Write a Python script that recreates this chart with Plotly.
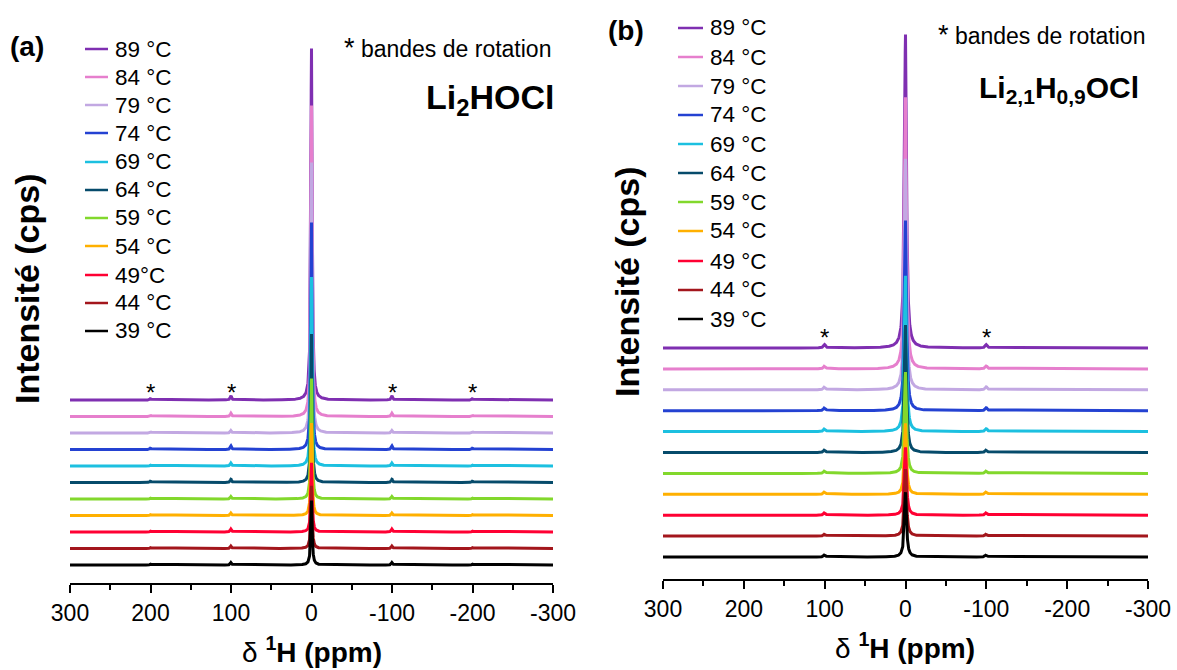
import numpy as np
import plotly.graph_objects as go

W, H = 1177, 670

# ---------------- data ----------------
labels_a = ["39 °C", "44 °C", "49°C", "54 °C", "59 °C", "64 °C", "69 °C", "74 °C", "79 °C", "84 °C", "89 °C"]
labels_b = ["39 °C", "44 °C", "49 °C", "54 °C", "59 °C", "64 °C", "69 °C", "74 °C", "79 °C", "84 °C", "89 °C"]
colors = ["#000000", "#A3161C", "#FF0033", "#FFB000", "#82D82C", "#064B6B",
          "#1CC0E0", "#2442D2", "#C2A8E2", "#E67FCD", "#7F2FB1"]

# central peak heights (units of the vertical offset step)
peak_a = [3.9, 3.8, 4.2, 5.6, 7.3, 9.0, 11.45, 13.75, 16.4, 18.85, 21.3]
peak_b = [3.1, 3.2, 3.25, 3.4, 4.85, 6.1, 7.45, 9.1, 11.05, 13.0, 15.0]
# spinning side-band heights
sb100_a = [0.15, 0.15, 0.18, 0.15, 0.15, 0.2, 0.18, 0.22, 0.15, 0.2, 0.25]
sb200_a = [0.05, 0.05, 0.05, 0.05, 0.05, 0.08, 0.05, 0.08, 0.06, 0.06, 0.08]
sb100_b = [0.1, 0.1, 0.12, 0.12, 0.12, 0.12, 0.14, 0.14, 0.14, 0.14, 0.16]
width_a = 1.0
width_b = 1.5

tick_vals = [300, 200, 100, 0, -100, -200, -300]
tick_text = ["300", "200", "100", "0", "-100", "-200", "-300"]
minor_vals = [250, 150, 50, -50, -150, -250]

ppm = np.linspace(-300, 300, 4801)


def lor(x0, g):
    return g * g / ((ppm - x0) ** 2 + g * g)


fig = go.Figure()

FONT = "Arial, Liberation Sans, sans-serif"

for i in reversed(range(11)):
    ya = i + peak_a[i] * lor(0, width_a) + sb100_a[i] * (lor(100, width_a) + lor(-100, width_a)) \
        + sb200_a[i] * (lor(200, width_a) + lor(-200, width_a))
    fig.add_trace(go.Scatter(x=ppm, y=ya, mode="lines", line=dict(color=colors[i], width=3),
                             xaxis="x", yaxis="y", showlegend=False, hoverinfo="skip"))
for i in reversed(range(11)):
    yb = i + peak_b[i] * lor(0, width_b) + sb100_b[i] * (lor(100, width_b) + lor(-100, width_b))
    fig.add_trace(go.Scatter(x=ppm, y=yb, mode="lines", line=dict(color=colors[i], width=3),
                             xaxis="x2", yaxis="y2", showlegend=False, hoverinfo="skip"))


def px(x):
    return x / W


def py(y):
    return 1 - y / H


xcommon = dict(range=[300, -300], tickmode="array", tickvals=tick_vals, ticktext=tick_text,
               ticks="outside", ticklen=8, tickwidth=2, tickcolor="black", automargin=False,
               showline=True, linewidth=2, linecolor="black", showgrid=False, zeroline=False,
               tickfont=dict(family=FONT, size=23, color="black"),
               minor=dict(ticks="outside", ticklen=5, tickwidth=2, tickcolor="black",
                          tickvals=minor_vals, showgrid=False))

# spacing: a 16.5 px/unit, b 20.9 px/unit
ya_min = -(583 - 565) / 16.5
ya_max = ya_min + (583 - 40) / 16.5
yb_min = -(579 - 557) / 20.9
yb_max = yb_min + (579 - 25) / 20.9

fig.update_layout(
    template="none",
    width=W, height=H, margin=dict(l=0, r=0, t=0, b=0, autoexpand=False),
    paper_bgcolor="white", plot_bgcolor="white",
    font=dict(family=FONT, color="black"),
    xaxis=dict(domain=[px(70), px(553)], anchor="y", **xcommon),
    yaxis=dict(domain=[py(583), py(40)], range=[ya_min, ya_max], visible=False, anchor="x",
               automargin=False),
    xaxis2=dict(domain=[px(663), px(1148)], anchor="y2", **xcommon),
    yaxis2=dict(domain=[py(579), py(25)], range=[yb_min, yb_max], visible=False, anchor="x2",
                automargin=False),
)

ann = []
shapes = []


def note(text, x, y, size, xanchor="center", yanchor="middle", **kw):
    ann.append(dict(text=text, xref="paper", yref="paper", x=px(x), y=py(y), xanchor=xanchor,
                    yanchor=yanchor, showarrow=False, font=dict(size=size, family=FONT), **kw))


# manual legends
rows_a = [331, 303, 275, 246, 218, 190, 162, 133, 105, 77, 49]
rows_b = [319, 290, 261, 231, 202, 173, 144, 115, 86, 57, 28]
for i in range(11):
    shapes.append(dict(type="line", xref="paper", yref="paper", x0=px(85), x1=px(108),
                       y0=py(rows_a[i]), y1=py(rows_a[i]), line=dict(color=colors[i], width=2.5)))
    note(labels_a[i], 113, rows_a[i], 22.5, xanchor="left")
    shapes.append(dict(type="line", xref="paper", yref="paper", x0=px(678), x1=px(703),
                       y0=py(rows_b[i]), y1=py(rows_b[i]), line=dict(color=colors[i], width=2.5)))
    note(labels_b[i], 708, rows_b[i], 22.5, xanchor="left")

# asterisks over spinning side bands
for xv in [200, 100, -100, -200]:
    ann.append(dict(text="*", xref="x", yref="y", x=xv, y=10, yshift=7, showarrow=False,
                    xanchor="center", yanchor="middle", font=dict(size=24, family=FONT)))
for xv in [100, -100]:
    ann.append(dict(text="*", xref="x2", yref="y2", x=xv, y=10, yshift=11, showarrow=False,
                    xanchor="center", yanchor="middle", font=dict(size=24, family=FONT)))

# panel letters
note("<b>(a)</b>", 27, 46, 28)
note("<b>(b)</b>", 626, 30, 28)

# notes
note("<span style='font-size:27px'>*</span> bandes de rotation", 342, 48, 23, xanchor="left")
note("<span style='font-size:27px'>*</span> bandes de rotation", 936, 35, 23, xanchor="left")
note("<b>Li<sub>2</sub>HOCl</b>", 556, 100, 34, xanchor="right")
note("<b>Li<sub>2,1</sub>H<sub>0,9</sub>OCl</b>", 1141, 90, 30, xanchor="right")

# axis titles
note("δ <b><sup>1</sup>H (ppm)</b>", 312, 650, 28)
note("δ <b><sup>1</sup>H (ppm)</b>", 905, 646, 28)
note("<b>Intensité (cps)</b>", 27, 289, 34, textangle=-90)
note("<b>Intensité (cps)</b>", 627, 282, 34, textangle=-90)

fig.update_layout(annotations=ann, shapes=shapes)
fig.write_html("out.html", config={"displayModeBar": False},
               post_script="document.body.style.margin='0px';document.body.style.overflow='hidden';")
